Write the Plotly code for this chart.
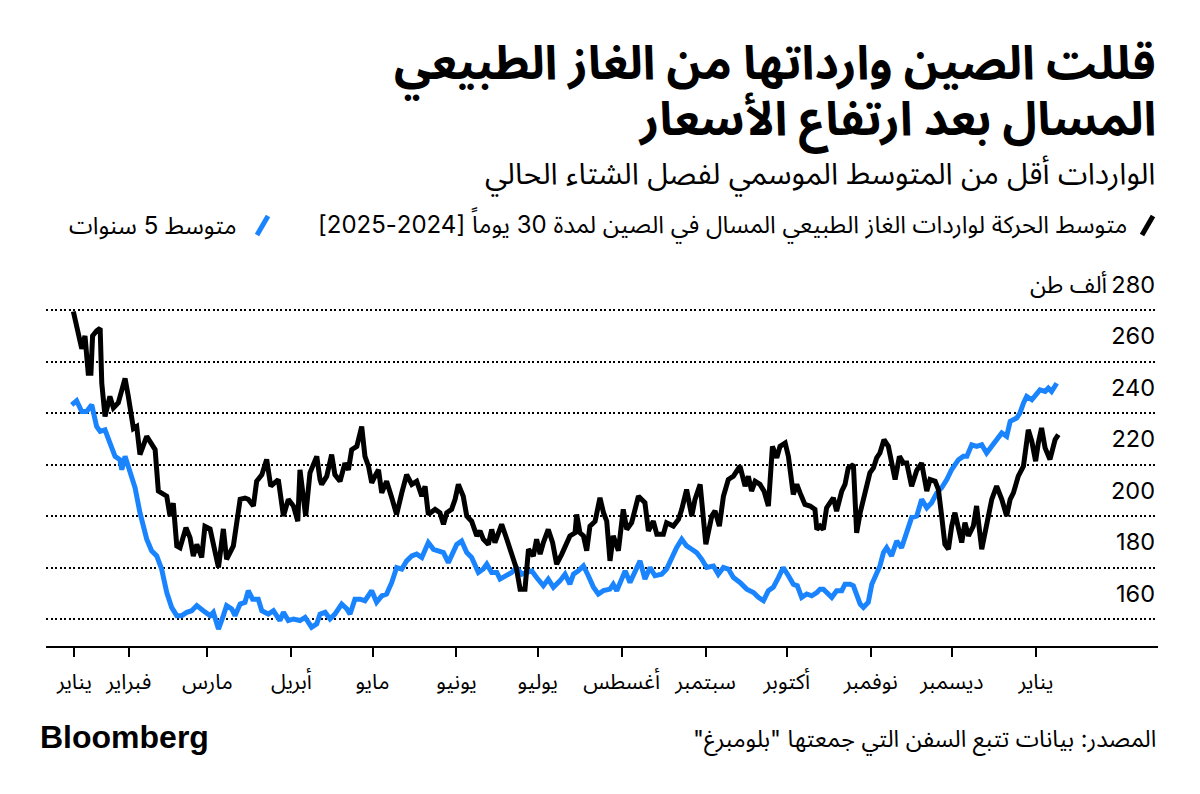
import plotly.graph_objects as go

# x positions are days counted from 1 Jan 2024
black_day = [
    10.5, 11.7, 13.6, 14.8, 16.0, 17.0, 17.6, 19.1, 20.4, 21.0, 22.2, 24.0, 25.3, 27.1, 29.6, 30.8,
    32.7, 33.9, 35.1, 37.6, 40.7, 41.9, 45.0, 46.2, 47.4, 48.7, 49.9, 52.1, 53.6, 54.8, 56.1, 57.9,
    59.1, 61.0, 62.8, 64.1, 65.9, 67.1, 69.6, 72.1, 73.9, 75.1, 77.0, 78.2, 80.1, 81.9, 83.4, 86.2,
    88.1, 89.9, 91.8, 93.4, 94.2, 96.3, 97.9, 100.4, 101.6,
    102.2, 104.1, 105.9, 107.1, 109.0, 110.8, 112.1, 113.3, 115.2, 117.0, 118.2, 119.5, 120.7, 121.9,
    123.2, 124.4, 126.2, 128.1, 129.9, 131.8, 133.6, 135.5, 137.3, 139.2, 140.4, 141.6, 144.1, 145.9,
    147.2, 148.4, 150.2, 151.5, 152.7, 154.5, 155.8, 157.6, 159.5, 160.7, 161.9, 163.8, 165.0, 166.2,
    168.7, 170.6, 172.4, 174.2, 175.5, 177.3, 178.6, 180.4, 181.6, 182.9, 184.1, 185.9, 187.5, 189.0,
    190.9, 192.7, 193.9,
    195.8, 196.4, 197.6, 198.9, 200.1, 201.3, 203.2, 205.0, 206.3, 207.5, 208.7, 209.9, 211.8, 213.6,
    214.9, 216.7, 219.2, 221.6, 222.9, 224.7, 226.0, 228.4, 229.6, 232.1, 234.0, 235.2, 237.0, 238.9,
    240.1, 242.0, 244.1, 246.3, 247.5, 249.1, 250.6, 252.4, 254.3, 256.7, 258.6, 259.8, 261.0, 262.3,
    264.1, 265.6, 267.2, 268.7, 270.3, 271.5, 273.4, 274.6, 276.4, 277.7, 278.9, 280.7, 282.6, 284.4,
    285.1, 286.3,
    287.5, 288.7, 290.0, 291.2, 292.4, 294.3, 295.5, 296.7, 298.6, 299.8, 301.1, 302.9, 304.7, 306.0,
    307.2, 308.4, 309.9, 311.5, 312.7, 314.0, 315.6, 317.1, 318.3, 320.1, 322.0, 323.8, 325.7, 326.9,
    328.8, 330.0, 331.2, 332.4, 333.7, 334.9, 336.1, 337.4, 338.6, 339.8, 341.1, 342.9, 344.1, 346.0,
    347.8, 349.7, 351.5, 353.4, 355.2, 356.5, 357.7, 359.5, 361.4, 363.2, 364.5, 365.9, 366.9, 368.1,
    369.4, 371.2, 373.1, 374.3,
]
black_val = [
    279.5, 272.9, 265.0, 270.0, 255.5, 255.5, 270.0, 272.0, 273.0, 251.6, 238.7, 246.5, 242.0, 244.0, 253.5, 246.5,
    234.0, 234.8, 223.9, 231.0, 225.8, 209.7, 207.7, 200.0, 205.0, 188.4, 187.7, 195.5, 191.6, 184.5, 189.0, 183.9,
    196.0, 195.0, 185.8, 180.0, 195.0, 183.2, 188.4, 206.5, 207.0, 206.5, 203.9, 213.5, 216.0, 222.0, 211.6, 214.2,
    200.0, 206.5, 203.9, 198.0, 218.0, 200.0, 216.8, 223.2, 214.2,
    212.3, 215.5, 223.9, 216.1, 213.5, 220.6, 218.0, 225.8, 227.1, 234.8, 223.2, 219.4, 212.9, 215.5,
    218.0, 209.0, 213.5, 207.1, 200.6, 209.0, 216.1, 212.3, 213.5, 207.7, 211.6, 200.6, 202.6, 201.3,
    196.8, 201.3, 202.6, 206.5, 212.3, 207.7, 200.0, 198.0, 192.3, 194.2, 191.0, 189.0, 194.8, 189.7,
    196.8, 191.0, 184.5, 179.4, 171.6, 171.6, 187.1, 184.5, 191.0, 185.2, 189.7, 194.8, 189.7, 181.3,
    185.2, 189.7, 192.3,
    193.5, 200.6, 193.5, 192.3, 186.5, 196.1, 198.0, 207.1, 201.3, 198.0, 182.6, 192.3, 186.5, 202.6,
    194.8, 197.4, 207.7, 205.2, 194.2, 198.0, 192.9, 192.9, 197.4, 196.1, 198.7, 202.6, 210.3, 200.0,
    206.5, 212.3, 189.0, 200.0, 202.0, 196.1, 207.7, 214.2, 215.5, 219.4, 211.6, 215.5, 209.7, 213.5,
    212.3, 209.7, 203.9, 227.1, 222.6, 227.1, 228.4, 223.2, 208.4, 212.3, 209.0, 204.5, 203.9, 202.6,
    194.8, 196.1,
    194.8, 203.2, 205.2, 207.1, 201.9, 209.7, 212.3, 218.7, 220.0, 193.5, 201.3, 209.0, 216.8, 218.7,
    222.6, 224.5, 229.7, 227.1, 220.6, 214.2, 223.2, 220.6, 220.6, 211.6, 217.8, 220.6, 209.7, 214.2,
    213.5, 210.3, 200.0, 189.0, 187.1, 196.1, 201.3, 196.1, 189.7, 197.4, 192.3, 196.1, 203.9, 187.1,
    197.4, 206.5, 211.6, 206.5, 200.0, 206.5, 209.0, 215.5, 219.4, 233.5, 229.0, 221.3, 228.4, 234.2,
    226.5, 222.0, 229.7, 231.6,
]

blue_day = [
    9.9, 11.7, 13.6, 15.4, 17.3, 19.1, 20.4, 22.2, 24.0, 25.9, 27.7, 28.4, 29.6, 31.4, 33.3, 35.1,
    37.6, 39.4, 41.3, 43.1, 45.0, 46.8, 48.7, 50.5, 52.4, 54.2, 56.1, 58.5, 61.0, 62.2, 64.1, 65.9,
    67.1, 69.0, 70.2, 72.1, 73.9, 75.1, 76.7, 78.8, 80.1, 82.5, 84.4, 86.8, 88.1, 89.9, 91.8, 94.2,
    96.1, 98.5, 100.4, 101.6,
    103.5, 105.3, 107.1, 109.6, 111.5, 112.7, 114.5, 116.4, 118.2, 120.7, 122.5, 124.4, 126.2, 128.1,
    129.9, 131.8, 133.6, 135.5, 137.3, 139.2, 141.6, 143.5, 145.3, 147.2, 149.0, 150.2, 152.1, 153.9,
    155.8, 157.6, 158.9, 160.1, 161.9, 163.2, 165.0, 166.9, 168.1, 170.6, 172.4, 174.2, 176.1, 177.9,
    179.8, 181.6, 184.1, 185.9, 187.8, 190.2, 192.1, 193.9,
    195.2, 197.0, 198.9, 200.7, 202.6, 204.4, 206.3, 208.7, 209.9, 211.2, 213.0, 214.3, 216.1, 218.0,
    219.8, 221.6, 223.5, 225.3, 227.8, 229.6, 231.5, 233.3, 235.2, 237.0, 238.9, 240.7, 242.6, 244.4,
    246.9, 248.7, 250.6, 252.4, 254.3, 256.7, 259.2, 261.7, 263.5, 265.4, 267.2, 269.0, 270.9, 272.7,
    274.6, 276.4, 277.9, 279.5, 281.4, 283.2, 285.1, 286.3,
    287.5, 289.4, 290.6, 292.4, 294.3, 295.5, 297.4, 298.6, 299.8, 301.1, 302.3, 304.1, 305.4, 307.2,
    308.4, 309.7, 310.9, 312.7, 314.6, 316.4, 318.3, 320.1, 322.0, 323.8, 325.7, 327.5, 329.4, 331.2,
    333.1, 334.9, 337.4, 339.2, 340.5, 342.3, 344.1, 346.0, 347.8, 349.7, 351.5, 353.4, 355.2, 356.5,
    358.9, 360.1, 361.4, 362.6, 364.5, 366.3, 367.5, 369.4, 370.6, 371.8, 373.7,
]
blue_val = [
    243.2, 244.8, 240.6, 240.6, 243.2, 234.8, 232.9, 233.5, 228.4, 223.2, 221.9, 218.0, 223.2, 216.8, 211.0, 201.3,
    191.0, 186.5, 184.5, 179.4, 170.3, 164.5, 161.3, 161.3, 162.6, 163.2, 165.2, 163.2, 161.3, 162.6, 156.1, 161.3,
    165.2, 163.9, 161.3, 165.8, 166.5, 171.0, 167.7, 167.7, 163.2, 161.9, 163.2, 159.4, 162.6, 159.4, 160.0, 159.4,
    160.6, 156.8, 158.1, 161.9,
    162.6, 160.0, 161.9, 165.8, 163.9, 161.9, 167.7, 167.7, 167.1, 171.0, 166.5, 169.0, 169.7, 174.2,
    180.0, 179.4, 182.6, 184.5, 185.2, 183.9, 189.7, 187.1, 186.5, 185.8, 181.9, 184.5, 189.0, 190.3,
    185.8, 183.9, 181.3, 178.1, 179.4, 181.3, 178.1, 178.1, 175.5, 176.8, 178.1, 180.0, 177.4, 178.1,
    178.7, 176.1, 172.9, 175.5, 172.3, 174.8, 177.4, 173.5,
    177.4, 178.7, 180.6, 176.8, 172.3, 169.7, 171.0, 171.6, 173.5, 171.0, 176.1, 178.7, 174.2, 178.1,
    182.6, 175.5, 180.0, 176.8, 177.4, 179.4, 183.9, 187.7, 191.0, 188.4, 187.1, 185.8, 183.2, 180.0,
    180.6, 177.4, 180.0, 179.4, 176.1, 174.2, 171.6, 170.3, 168.4, 167.1, 171.0, 172.3, 176.1, 180.0,
    176.8, 173.5, 172.9, 168.4, 169.7, 169.0, 170.3, 171.6,
    171.6, 169.7, 168.4, 171.0, 171.0, 173.5, 173.5, 172.9, 169.7, 165.8, 164.5, 166.5, 173.5, 178.1,
    180.6, 185.8, 187.7, 184.5, 190.3, 187.7, 193.5, 199.4, 200.0, 206.5, 203.2, 205.2, 209.0, 211.0,
    214.2, 218.1, 221.9, 223.2, 223.2, 227.7, 227.1, 227.7, 224.5, 227.1, 229.0, 232.3, 231.0, 236.8,
    238.1, 240.0, 243.9, 246.5, 245.2, 247.1, 249.0, 248.4, 249.7, 248.4, 251.6,
]

month_days = [10.9, 31, 60, 91, 121, 152, 182, 213, 244, 274, 305, 335, 366]
month_labels = ["يناير", "فبراير", "مارس", "أبريل", "مايو", "يونيو", "يوليو",
                "أغسطس", "سبتمبر", "أكتوبر", "نوفمبر", "ديسمبر", "يناير"]
y_ticks = [160, 180, 200, 220, 240, 260, 280]
y_unit = "ألف طن"


def rtl(s):
    # right-to-left embedding so punctuation and numbers land where Arabic readers expect
    return "\u202b" + s + "\u202c"


AR = "Inter, 'Noto Sans Arabic', 'DejaVu Sans', sans-serif"
BLUE = "#1a84ff"

fig = go.Figure()
fig.add_trace(go.Scatter(x=blue_day, y=blue_val, mode="lines",
                         line=dict(color=BLUE, width=5), hoverinfo="skip"))
fig.add_trace(go.Scatter(x=black_day, y=black_val, mode="lines",
                         line=dict(color="black", width=5), hoverinfo="skip"))

fig.update_xaxes(
    range=[0.4, 411.1], tickmode="array", tickvals=month_days, ticktext=month_labels,
    showline=True, linecolor="black", linewidth=2,
    ticks="outside", ticklen=9, tickwidth=2, tickcolor="black", ticklabelstandoff=6,
    showgrid=False, zeroline=False,
    tickfont=dict(family=AR, size=21.5, color="black"),
)
# range runs well above 280 so the top inside label has room and is not dropped
fig.update_yaxes(
    range=[149.5, 310], side="right", tickmode="array", tickvals=y_ticks,
    ticklabelposition="inside top", ticklabelshift=-9,
    showgrid=True, gridcolor="black", gridwidth=1.6, griddash="2px,2.5px",
    zeroline=False, showline=False, ticks="",
    tickfont=dict(family=AR, size=23.5, color="black"),
)

# page has an 8px body margin, so the figure is 16px smaller than the window;
# paper coords: x 0..1 -> window px 46..1158, y 0..1 -> window px 646..233
def px(xp):
    return (xp - 46) / 1112


def py(yp):
    return (646 - yp) / 413.1


ann = [
    dict(text=rtl("قللت الصين وارداتها من الغاز الطبيعي"), x=1, y=py(67), xanchor="right",
         yanchor="middle", font=dict(family=AR, size=47, color="black", weight="bold")),
    dict(text=rtl("المسال بعد ارتفاع الأسعار"), x=1, y=py(121), xanchor="right",
         yanchor="middle", font=dict(family=AR, size=47, color="black", weight="bold")),
    dict(text=rtl("الواردات أقل من المتوسط الموسمي لفصل الشتاء الحالي"), x=1, y=py(176),
         xanchor="right", yanchor="middle", font=dict(family=AR, size=30, color="black")),
    dict(text=rtl("متوسط الحركة لواردات الغاز الطبيعي المسال في الصين لمدة 30 يوماً [2024-2025]"),
         x=px(1129), y=py(225), xanchor="right", yanchor="middle",
         font=dict(family=AR, size=24, color="black")),
    dict(text=rtl("متوسط 5 سنوات"), x=px(239), y=py(225), xanchor="right", yanchor="middle",
         font=dict(family=AR, size=24, color="black")),
    # unit sits to the left of the top tick label
    dict(text=y_unit, x=px(1109), y=py(284), xanchor="right", yanchor="middle",
         font=dict(family=AR, size=23.5, color="black")),
    dict(text="Bloomberg", x=px(38), y=py(737), xanchor="left", yanchor="middle",
         font=dict(family="'Liberation Sans', Arial, sans-serif", size=32, color="black", weight="bold")),
    dict(text=rtl('المصدر: بيانات تتبع السفن التي جمعتها "بلومبرغ"'), x=1, y=py(740),
         xanchor="right", yanchor="middle", font=dict(family=AR, size=23.5, color="black")),
]
for a in ann:
    a.update(xref="paper", yref="paper", showarrow=False)

shapes = [
    dict(type="line", xref="paper", yref="paper", x0=px(1142), x1=px(1153), y0=py(235), y1=py(216),
         line=dict(color="black", width=5)),
    dict(type="line", xref="paper", yref="paper", x0=px(257), x1=px(268), y0=py(235), y1=py(216),
         line=dict(color=BLUE, width=5)),
]

fig.update_layout(
    width=1184, height=778,
    margin=dict(l=38, r=34, t=224.9, b=140),
    paper_bgcolor="white", plot_bgcolor="white",
    showlegend=False,
    annotations=ann, shapes=shapes,
)

fig.write_html("out.html")
